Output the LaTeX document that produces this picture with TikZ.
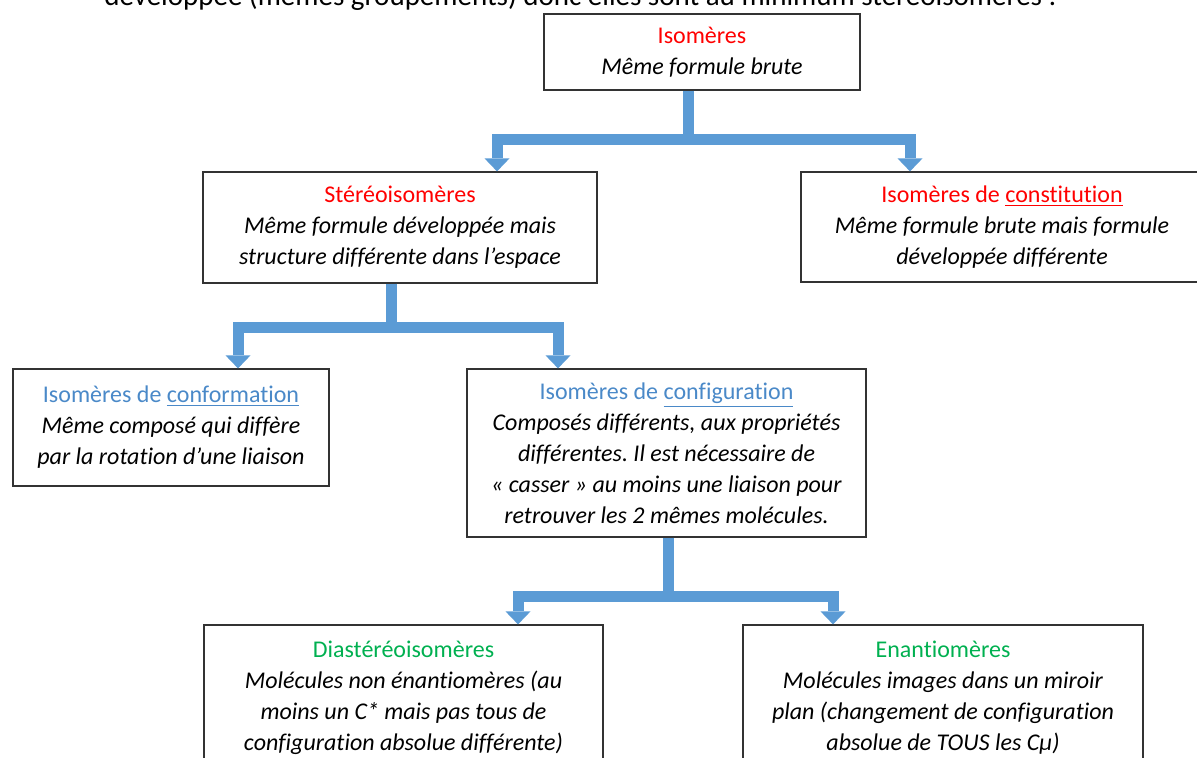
\documentclass[tikz,border=0pt]{standalone}
\usepackage{fontspec}
\setmainfont{Carlito}[Ligatures=NoCommon]
\usepackage{tikz}
\usetikzlibrary{arrows.meta,positioning,calc}
\definecolor{isored}{HTML}{FF0000}
\definecolor{isoblue}{HTML}{4A89C8}
\definecolor{isogreen}{HTML}{00B050}
\definecolor{linkblue}{HTML}{5B9BD5}
\frenchspacing

\begin{document}
\begin{tikzpicture}
[x=0.5pt,y=-0.5pt,
box/.style={draw=black!80,line width=.6pt,align=center,inner sep=0pt,
  font=\fontsize{12}{15.5}\selectfont},
link/.style={draw=linkblue,line width=5.5pt},
linkarr/.style={link,-{Triangle[width=12.5pt,length=6.5pt,line width=0pt]}}]
\useasboundingbox (0,0) rectangle (1197,758);
\clip (0,0) rectangle (1197,758);
\node[anchor=base west,inner sep=0pt,font=\fontsize{14.5}{17}\selectfont] (intro) at (104,6)
  {développée (mêmes groupements) donc elles sont au minimum stéréoisomères :};
% boxes
\node[box,minimum width=158pt,minimum height=38pt] (iso) at (702,52)
  {\textcolor{isored}{Isomères}\\ \textit{Même formule brute}};
\node[box,minimum width=197pt,minimum height=55.5pt] (stereo) at (400,227.5)
  {\textcolor{isored}{Stéréoisomères}\\ \textit{Même formule développée mais}\\ \textit{structure différente dans l’espace}};
\node[box,minimum width=201pt,minimum height=55pt] (const) at (1002,227)
  {\textcolor{isored}{Isomères de \underline{constitution}}\\ \textit{Même formule brute mais formule}\\ \textit{développée différente}};
\node[box,minimum width=158pt,minimum height=58.5pt] (conf) at (171,427.5)
  {\textcolor{isoblue}{Isomères de \underline{conformation}}\\ \textit{Même composé qui diffère}\\ \textit{par la rotation d’une liaison}};
\node[box,minimum width=199.5pt,minimum height=84pt] (config) at (666.5,453)
  {\textcolor{isoblue}{Isomères de \underline{configuration}}\\ \textit{Composés différents, aux propriétés}\\
   \textit{différentes. Il est nécessaire de}\\ \textit{« casser » au moins une liaison pour}\\ \textit{retrouver les 2 mêmes molécules.}};
\node[box,minimum width=199.5pt,minimum height=72.5pt] (dia) at (403.5,697.5)
  {\textcolor{isogreen}{Diastéréoisomères}\\ \textit{Molécules non énantiomères (au}\\
   \textit{moins un C* mais pas tous de}\\ \textit{configuration absolue différente)}};
\node[box,minimum width=200pt,minimum height=72.5pt] (enan) at (943,697.5)
  {\textcolor{isogreen}{Enantiomères}\\ \textit{Molécules images dans un miroir}\\
   \textit{plan (changement de configuration}\\ \textit{absolue de TOUS les Cµ)}};
% connectors
\coordinate (j1) at (688,140);
\coordinate (j2) at (391,328);
\coordinate (j3) at (668,596);
\draw[link] (iso.south -| j1) -- (j1);
\draw[linkarr] (j1) -| ($(stereo.north)+(97,0)$);
\draw[linkarr] (j1) -| ($(const.north)+(-92,0)$);
\draw[link] (stereo.south -| j2) -- (j2);
\draw[linkarr] (j2) -| ($(conf.north)+(67,0)$);
\draw[linkarr] (j2) -| ($(config.north)+(-108.5,0)$);
\draw[link] (config.south -| j3) -- (j3);
\draw[linkarr] (j3) -| ($(dia.north)+(114.5,0)$);
\draw[linkarr] (j3) -| ($(enan.north)+(-110,0)$);
\end{tikzpicture}
\end{document}
